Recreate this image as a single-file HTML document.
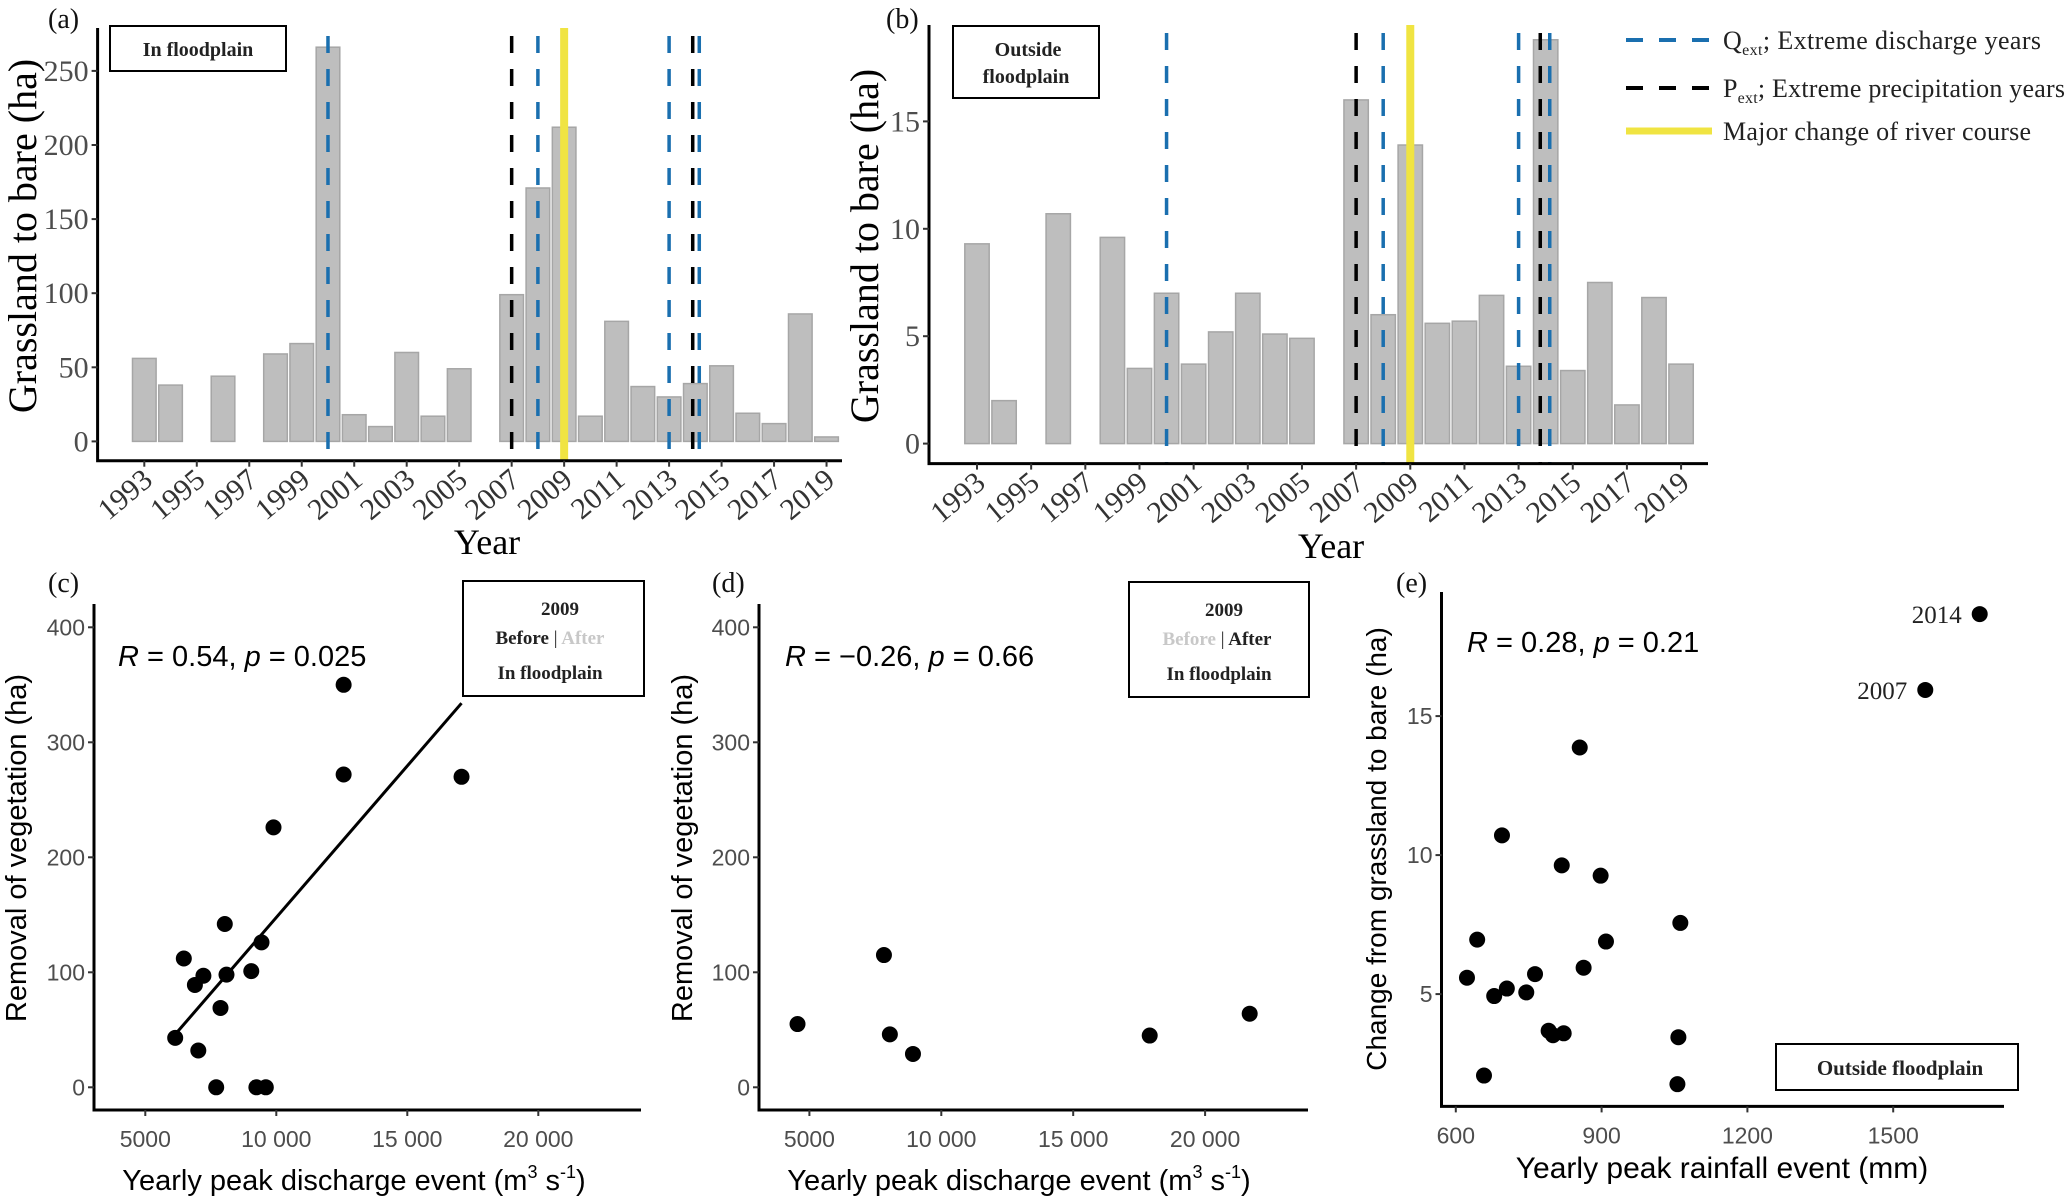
<!DOCTYPE html>
<html><head><meta charset="utf-8">
<style>
html,body{margin:0;padding:0;background:#fff;}
svg{display:block;}
.serif{font-family:"Liberation Serif",serif;}
.sans{font-family:"Liberation Sans",sans-serif;}
</style></head>
<body>
<svg id="fig" width="2067" height="1198" viewBox="0 0 2067 1198" xmlns="http://www.w3.org/2000/svg">
<rect width="2067" height="1198" fill="#fff"/>
<g id="pa"></g>
<g id="pb"></g>
<g id="pc"></g>
<g id="pd"></g>
<g id="pe"></g>
<g id="legend">
  <line x1="1626" y1="40" x2="1712" y2="40" stroke="#1a6faf" stroke-width="4" stroke-dasharray="17,16"/>
  <text x="1723" y="49" class="serif" font-size="26" fill="#222" textLength="318">Q<tspan font-size="16" dy="6">ext</tspan><tspan dy="-6">; Extreme discharge years</tspan></text>
  <line x1="1626" y1="88" x2="1712" y2="88" stroke="#000" stroke-width="4" stroke-dasharray="17,16"/>
  <text x="1723" y="97" class="serif" font-size="26" fill="#222" textLength="342">P<tspan font-size="16" dy="6">ext</tspan><tspan dy="-6">; Extreme precipitation years</tspan></text>
  <line x1="1626" y1="131" x2="1712" y2="131" stroke="#f0e442" stroke-width="7"/>
  <text x="1723" y="140" class="serif" font-size="26" fill="#222" textLength="308">Major change of river course</text>
</g>
</svg>
<script>
const years=[1993,1994,1995,1996,1997,1998,1999,2000,2001,2002,2003,2004,2005,2006,2007,2008,2009,2010,2011,2012,2013,2014,2015,2016,2017,2018,2019];
const valsA=[56,38,null,44,null,59,66,266,18,10,60,17,49,null,99,171,212,17,81,37,30,39,51,19,12,86,3];
const valsB=[9.3,2.0,null,10.7,null,9.6,3.5,7.0,3.7,5.2,7.0,5.1,4.9,null,16.0,6.0,13.9,5.6,5.7,6.9,3.6,18.8,3.4,7.5,1.8,6.8,3.7];
const yearTicks=[1993,1995,1997,1999,2001,2003,2005,2007,2009,2011,2013,2015,2017,2019];
const qextA=[2000,2008,2013,2014.15];
const pextA=[2007,2013.9];
const qextB=[2000,2008,2013,2014.15];
const pextB=[2007,2013.8];
const riverYear=[2009];
const ticksA=[0,50,100,150,200,250];
const ticksB=[0,5,10,15];

const cX=[6141,6470,6893,7218,7023,7706,7870,8034,8099,9045,9240,9600,9435,9893,12570,12570,17070];
const cY=[43,112,89,97,32,0,69,142,98,101,0,0,126,226,350,272,270];
const cFitX=[6141,17070];
const cFitY=[46,334];
const dX=[4550,7826,8050,8926,17900,21690];
const dY=[55,115,46,29,45,64];
const qTicks=[5000,10000,15000,20000];
const qTickLabels=["5000","10 000","15 000","20 000"];
const vegTicks=[0,100,200,300,400];
const eX=[623,644,658,679,695,705,745,763,791,800,822,818,855,863,898,909,1058,1056,1062,1566,1678];
const eY=[5.59,6.96,2.07,4.93,10.71,5.2,5.06,5.72,3.68,3.52,3.59,9.63,13.87,5.95,9.26,6.89,3.45,1.76,7.56,15.94,18.67];
const eLabels=[{i:19,t:"2007"},{i:20,t:"2014"}];
const rainTicks=[600,900,1200,1500];
const eTicks=[5,10,15];

const NS="http://www.w3.org/2000/svg";
function mk(parent,tag,attrs,text){const e=document.createElementNS(NS,tag);for(const k in attrs)e.setAttribute(k,attrs[k]);if(text!==undefined)e.textContent=text;parent.appendChild(e);return e;}

function barPanel(g,o){
  const xs=y=>o.x0+(y-1993)*o.dx;
  const ys=v=>o.y0-v*o.ky;
  const bw=o.dx*0.9;
  years.forEach((yr,i)=>{const v=o.vals[i];if(v===null)return;
    const r=mk(g,'rect',{x:xs(yr)-bw/2,y:ys(v),width:bw,height:ys(0)-ys(v),fill:'#bebebe',stroke:'#a6a6a6','stroke-width':1.5});
    
    
  });
  o.river.forEach(yr=>{const l=mk(g,'line',{x1:xs(yr),x2:xs(yr),y1:o.top,y2:o.axY,stroke:'#f0e442','stroke-width':8});
    
    });
  o.pext.forEach(yr=>{const l=mk(g,'line',{x1:xs(yr),x2:xs(yr),y1:o.top+8,y2:o.axY,stroke:'#000','stroke-width':3.5,'stroke-dasharray':'17,16'});
    
    });
  o.qext.forEach(yr=>{const l=mk(g,'line',{x1:xs(yr),x2:xs(yr),y1:o.top+8,y2:o.axY,stroke:'#1a6faf','stroke-width':3.5,'stroke-dasharray':'17,16'});
    
    });
  const ax=mk(g,'path',{d:`M${o.ax} ${o.top} V${o.axY} H${o.right}`,fill:'none',stroke:'#000','stroke-width':3});
  
  
  o.ticks.forEach(t=>{mk(g,'line',{x1:o.ax-6,x2:o.ax,y1:ys(t),y2:ys(t),stroke:'#333','stroke-width':2});
    const tl=mk(g,'text',{x:o.ax-9,y:ys(t)+10,'text-anchor':'end',class:'serif','font-size':30,fill:'#4d4d4d'},String(t));
    
    });
  yearTicks.forEach(yr=>{const x=xs(yr);mk(g,'line',{x1:x,x2:x,y1:o.axY,y2:o.axY+6,stroke:'#333','stroke-width':2});
    const tl=mk(g,'text',{x:x+10,y:o.axY+22,'text-anchor':'end',class:'serif','font-size':30,fill:'#333',transform:`rotate(-40 ${x+10} ${o.axY+22})`},String(yr));
    
    });
}

barPanel(document.getElementById('pa'),{x0:144.3,dx:26.24,y0:441.4,ky:74.1/50,vals:valsA,qext:qextA,pext:pextA,river:riverYear,ticks:ticksA,ax:97.6,top:28,axY:460.7,right:842});
barPanel(document.getElementById('pb'),{x0:977,dx:27.08,y0:443.6,ky:107.4/5,vals:valsB,qext:qextB,pext:pextB,river:riverYear,ticks:ticksB,ax:929,top:25,axY:463.6,right:1708});

function scatter(g,o){
  const xs=v=>o.xa+(v-o.xv0)*o.kx;
  const ys=v=>o.ya-(v-o.yv0)*o.ky;
  const ax=mk(g,'path',{d:`M${o.ax} ${o.top} V${o.axY} H${o.right}`,fill:'none',stroke:'#000','stroke-width':3});
  
  
  o.yt.forEach(t=>{mk(g,'line',{x1:o.ax-6,x2:o.ax,y1:ys(t),y2:ys(t),stroke:'#333','stroke-width':2});
    const tl=mk(g,'text',{x:o.ax-9,y:ys(t)+8,'text-anchor':'end',class:'sans','font-size':23,fill:'#4d4d4d'},String(t));
    
    });
  o.xt.forEach((t,i)=>{const x=xs(t);mk(g,'line',{x1:x,x2:x,y1:o.axY,y2:o.axY+6,stroke:'#333','stroke-width':2});
    const tl=mk(g,'text',{x:x,y:o.axY+37,'text-anchor':'middle',class:'sans','font-size':23,fill:'#4d4d4d'},o.xtl?o.xtl[i]:String(t));
    
    });
  if(o.fx){const l=mk(g,'line',{x1:xs(o.fx[0]),y1:ys(o.fy[0]),x2:xs(o.fx[1]),y2:ys(o.fy[1]),stroke:'#000','stroke-width':3});
    
    }
  o.px.forEach((v,i)=>{const c=mk(g,'circle',{cx:xs(v),cy:ys(o.py[i]),r:8,fill:'#000'});
    
    });
  return {xs,ys};
}

const gc=document.getElementById('pc');
scatter(gc,{xa:145.3,xv0:5000,kx:131/5000,ya:1087.3,yv0:0,ky:1.15,ax:94,top:604,axY:1110,right:641,xt:qTicks,xtl:qTickLabels,yt:vegTicks,px:cX,py:cY,fx:cFitX,fy:cFitY});
const gd=document.getElementById('pd');
scatter(gd,{xa:809.4,xv0:5000,kx:131.9/5000,ya:1087.3,yv0:0,ky:1.15,ax:759,top:604,axY:1110,right:1308,xt:qTicks,xtl:qTickLabels,yt:vegTicks,px:dX,py:dY});
const ge=document.getElementById('pe');
const se=scatter(ge,{xa:1455.8,xv0:600,kx:145.8/300,ya:994.1,yv0:5,ky:139/5,ax:1441.5,top:592,axY:1106.4,right:2004,xt:rainTicks,yt:eTicks,px:eX,py:eY});
eLabels.forEach(l=>{const t=mk(ge,'text',{x:se.xs(eX[l.i])-18,y:se.ys(eY[l.i])+9,'text-anchor':'end',class:'serif','font-size':25,fill:'#222'},l.t);
  
  });
</script>
<script>
const fig=document.getElementById('fig');
fig.insertAdjacentHTML('beforeend',`
<g>
<text x="48" y="28" class="serif" font-size="28" fill="#111">(a)</text>
<text x="886" y="28" class="serif" font-size="28" fill="#111">(b)</text>
<text x="48" y="592" class="serif" font-size="28" fill="#111">(c)</text>
<text x="712" y="592" class="serif" font-size="28" fill="#111">(d)</text>
<text x="1396" y="592" class="serif" font-size="28" fill="#111">(e)</text>

<rect x="110" y="26" width="176" height="45" fill="#fff" stroke="#000" stroke-width="2"/>
<text x="198" y="56" text-anchor="middle" class="serif" font-size="20" font-weight="bold" fill="#222">In floodplain</text>
<rect x="953" y="26" width="146" height="72" fill="#fff" stroke="#000" stroke-width="2"/>
<text x="1028" y="56" text-anchor="middle" class="serif" font-size="20" font-weight="bold" fill="#222">Outside</text>
<text x="1026" y="83" text-anchor="middle" class="serif" font-size="20" font-weight="bold" fill="#222">floodplain</text>

<text transform="translate(36 236) rotate(-90)" text-anchor="middle" class="serif" font-size="40" fill="#000">Grassland to bare (ha)</text>
<text transform="translate(878 246) rotate(-90)" text-anchor="middle" class="serif" font-size="40" fill="#000">Grassland to bare (ha)</text>
<text x="487" y="554" text-anchor="middle" class="serif" font-size="36" fill="#000">Year</text>
<text x="1331" y="558" text-anchor="middle" class="serif" font-size="36" fill="#000">Year</text>

<rect x="463" y="581" width="181" height="115" fill="#fff" stroke="#000" stroke-width="2"/>
<text x="560" y="615" text-anchor="middle" class="serif" font-size="19" font-weight="bold" fill="#222">2009</text>
<text x="550" y="644" text-anchor="middle" class="serif" font-size="19" font-weight="bold" fill="#222">Before <tspan font-weight="normal">|</tspan> <tspan fill="#c8c8c8">After</tspan></text>
<text x="550" y="679" text-anchor="middle" class="serif" font-size="19" font-weight="bold" fill="#222">In floodplain</text>

<rect x="1129" y="582" width="180" height="115" fill="#fff" stroke="#000" stroke-width="2"/>
<text x="1224" y="616" text-anchor="middle" class="serif" font-size="19" font-weight="bold" fill="#222">2009</text>
<text x="1217" y="645" text-anchor="middle" class="serif" font-size="19" font-weight="bold" fill="#222"><tspan fill="#c8c8c8">Before</tspan> <tspan font-weight="normal">|</tspan> After</text>
<text x="1219" y="680" text-anchor="middle" class="serif" font-size="19" font-weight="bold" fill="#222">In floodplain</text>

<rect x="1776" y="1044" width="242" height="46" fill="#fff" stroke="#000" stroke-width="2"/>
<text x="1900" y="1075" text-anchor="middle" class="serif" font-size="21" font-weight="bold" fill="#222">Outside floodplain</text>

<text x="118" y="666" class="sans" font-size="29" fill="#000"><tspan font-style="italic">R</tspan> = 0.54, <tspan font-style="italic">p</tspan> = 0.025</text>
<text x="785" y="666" class="sans" font-size="29" fill="#000"><tspan font-style="italic">R</tspan> = −0.26, <tspan font-style="italic">p</tspan> = 0.66</text>
<text x="1467" y="652" class="sans" font-size="29" fill="#000"><tspan font-style="italic">R</tspan> = 0.28, <tspan font-style="italic">p</tspan> = 0.21</text>

<text transform="translate(26 848) rotate(-90)" text-anchor="middle" class="sans" font-size="29" fill="#000">Removal of vegetation (ha)</text>
<text transform="translate(692 848) rotate(-90)" text-anchor="middle" class="sans" font-size="29" fill="#000">Removal of vegetation (ha)</text>
<text transform="translate(1386 849) rotate(-90)" text-anchor="middle" class="sans" font-size="28" fill="#000">Change from grassland to bare (ha)</text>

<text x="354" y="1190" text-anchor="middle" class="sans" font-size="29" fill="#000">Yearly peak discharge event (m<tspan font-size="18" dy="-12">3</tspan><tspan dy="12"> s</tspan><tspan font-size="18" dy="-12">-1</tspan><tspan dy="12">)</tspan></text>
<text x="1019" y="1190" text-anchor="middle" class="sans" font-size="29" fill="#000">Yearly peak discharge event (m<tspan font-size="18" dy="-12">3</tspan><tspan dy="12"> s</tspan><tspan font-size="18" dy="-12">-1</tspan><tspan dy="12">)</tspan></text>
<text x="1722" y="1178" text-anchor="middle" class="sans" font-size="30" fill="#000">Yearly peak rainfall event (mm)</text>
</g>`);
</script>
</body></html>
